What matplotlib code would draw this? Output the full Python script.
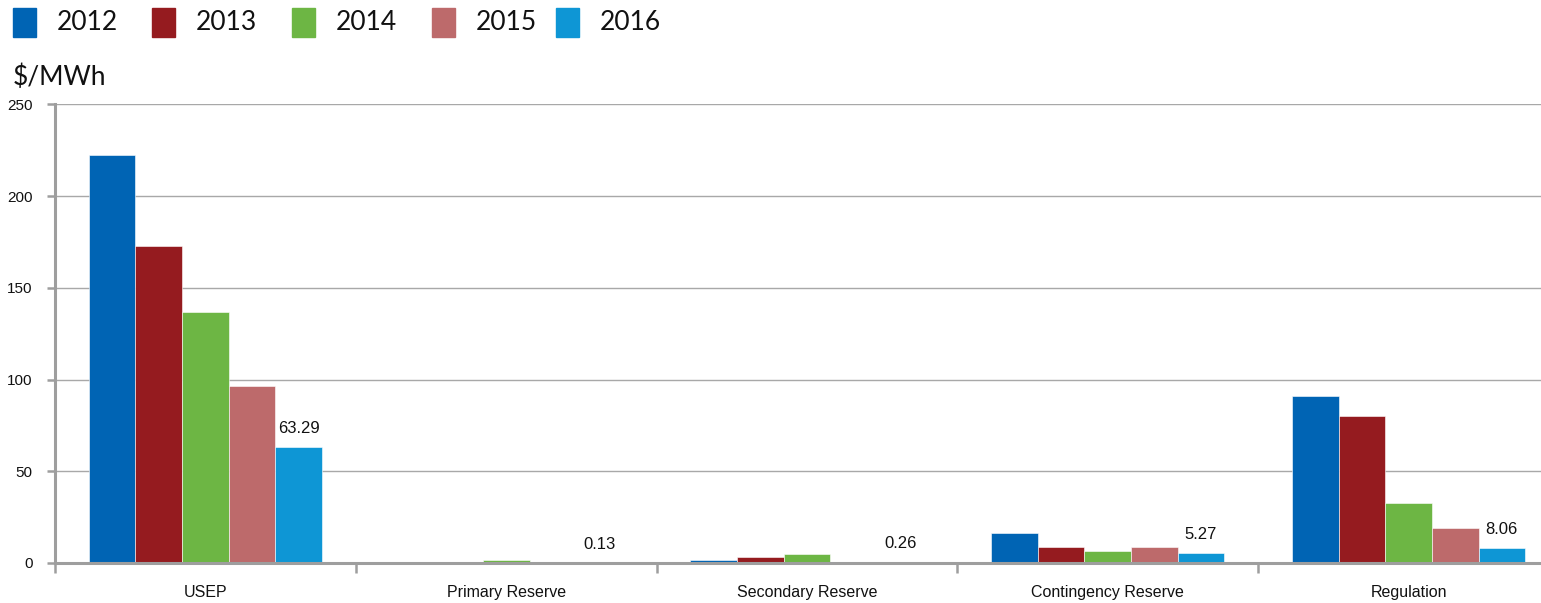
import matplotlib
matplotlib.use("Agg")
import matplotlib.pyplot as plt
from matplotlib.patches import Rectangle
import numpy as np

categories = ["USEP", "Primary Reserve", "Secondary Reserve", "Contingency Reserve", "Regulation"]
years = ["2012", "2013", "2014", "2015", "2016"]
colors = ["#0064B4", "#951B1F", "#6DB644", "#BD6A6B", "#0E96D5"]

v2012 = [222.7, 0.5, 1.7, 16.4, 91.2]
v2013 = [173.0, 0.6, 3.3, 8.7, 80.2]
v2014 = [137.0, 1.8, 4.8, 6.5, 32.8]
v2015 = [96.6, 0.4, 0.5, 8.7, 19.1]
v2016 = [63.29, 0.13, 0.26, 5.27, 8.06]
series = [v2012, v2013, v2014, v2015, v2016]

W, H = 1541, 603
fig = plt.figure(figsize=(W / 100, H / 100), dpi=100)

# axes box in pixels: left spine at x=55, baseline y=563, top (250) at y=104.5
left, right = 55, 55 + 5 * 300.8
bottom, top = 563, 104.5
ax = fig.add_axes([left / W, 1 - bottom / H, (right - left) / W, (bottom - top) / H])

x = np.arange(len(categories))
bw = 0.155
for i, (vals, c) in enumerate(zip(series, colors)):
    ax.bar(x + (i - 2) * bw, vals, width=bw, color=c, edgecolor="white",
           linewidth=0.4, zorder=3)

# value labels on the 2016 bars
for xi, v in zip(x, v2016):
    ax.annotate(f"{v:.2f}", (xi + 2 * bw, v), xytext=(0, 8), textcoords="offset points",
                ha="center", va="bottom", fontsize=12, family="Liberation Sans",
                color="#111111")

ax.set_xlim(-0.5, 4.5)
ax.set_ylim(0, 250)
ax.set_yticks([0, 50, 100, 150, 200, 250])
ax.yaxis.grid(True, color="#A8A8A8", linewidth=1.0, zorder=0)
ax.set_axisbelow(True)

grey = "#9E9E9E"
for s in ["top", "right"]:
    ax.spines[s].set_visible(False)
for s in ["left", "bottom"]:
    ax.spines[s].set_color(grey)
    ax.spines[s].set_linewidth(2.2)
    ax.spines[s].set_zorder(4)

ax.tick_params(axis="y", length=6, width=1.8, color=grey, pad=10,
               labelsize=11, labelcolor="#111111")
for lab in ax.get_yticklabels():
    lab.set_family("Liberation Sans")

ax.set_xticks(np.arange(-0.5, 5.0, 1.0))
ax.set_xticklabels([])
ax.tick_params(axis="x", which="major", length=7, width=1.8, color=grey)
ax.set_xticks(x, minor=True)
ax.set_xticklabels(categories, minor=True, family="Liberation Sans", fontsize=11.5,
                   color="#111111")
ax.tick_params(axis="x", which="minor", length=0, pad=16)

# legend row
leg_font = "Lato"
lx = [13, 152, 292, 432, 556]
for xx, yr, c in zip(lx, years, colors):
    fig.patches.append(Rectangle((xx / W, 1 - 37 / H), 23 / W, 29 / H,
                                 transform=fig.transFigure, color=c))
    fig.text((xx + 44) / W, 1 - 23 / H, yr, fontsize=19, family=leg_font,
             va="center", ha="left", color="#111111")

fig.text(13 / W, 1 - 77 / H, "$/MWh", fontsize=19, family=leg_font,
         va="center", ha="left", color="#111111")

fig.savefig("out.png", dpi=100, facecolor="white")
